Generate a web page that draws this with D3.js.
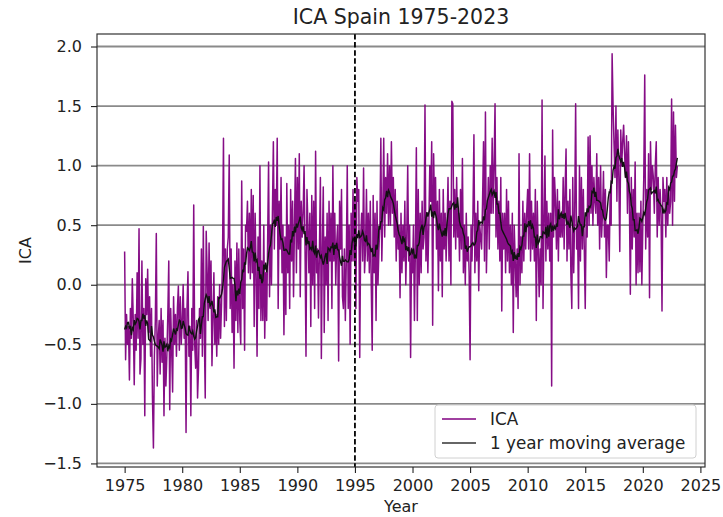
<!DOCTYPE html>
<html><head><meta charset="utf-8">
<script src="https://cdn.jsdelivr.net/npm/d3@7"></script>
<style>
body{margin:0;background:#fff}
text{font-family:"DejaVu Sans",sans-serif;fill:#222}
</style>
</head><body>
<svg id="chart" width="723" height="517"></svg>
<script>
// ---- data (monthly ICA values, Jan 1975 .. Jan 2023) ----
const startYear = 1975;
const ica1970s = [
 0.28,-0.63,-0.25,-0.5,-0.35,-0.8,-0.2,-0.45,0.05,-0.3,-0.84,-0.25,
 -0.55,0.1,-0.45,0.47,-0.75,-0.62,0.2,-0.5,-0.2,-1.1,0.05,-0.25,
 0.13,-0.4,-0.1,-0.6,-0.2,-0.95,-1.37,-0.6,-0.3,0.43,-0.85,-0.45,
 -0.3,-0.75,-0.2,-0.65,-0.3,-1.1,-0.45,-0.85,-0.6,-0.25,0.2,-1.05,
 -0.2,-0.55,-0.9,-0.1,-0.5,-0.25,-0.6,-0.2,-0.01,-0.55,-0.1,-0.5
];
const ica1980s = [
 -0.3,0.0,-0.45,-0.2,-1.24,-0.2,0.11,-0.6,-0.35,-1.1,-0.2,-0.55,
 0.67,-0.5,-0.7,-0.3,-0.95,-0.7,-0.2,-0.45,0.3,-0.6,0.49,-0.4,
 -0.95,0.45,0.1,-0.3,0.35,-0.2,0.2,-0.68,-0.3,0.1,-0.5,-0.25,
 -0.6,-0.1,-0.5,0.0,-0.45,-0.15,0.2,1.23,-0.35,0.3,-0.3,0.3,
 0.4,1.09,-0.2,0.3,-0.4,0.0,-0.7,0.2,-0.3,0.35,-0.4,0.3,
 -0.3,-0.5,0.87,-0.2,0.3,-0.55,0.5,0.45,0.7,0.1,0.6,0.05,
 0.8,0.1,0.75,-0.35,0.6,0.1,-0.6,0.4,-0.2,1.0,-0.3,0.2,
 -0.3,0.5,-0.45,0.1,-0.3,0.35,1.03,-0.1,0.5,0.0,0.6,1.2,
 0.3,0.8,0.5,1.23,-0.2,0.7,0.3,0.9,0.1,0.5,-0.42,0.4,
 -0.25,0.85,0.1,0.5,-0.2,0.8,0.2,0.7,-0.1,0.5,1.06,0.1
];
const ica1990s = [
 0.9,0.3,1.1,-0.1,0.7,0.4,0.6,1.0,0.3,-0.6,0.8,0.5,
 0.1,0.6,-0.35,0.75,0.0,0.7,-0.2,1.12,0.1,0.3,-0.28,0.3,
 0.9,-0.62,0.3,0.82,-0.4,0.4,0.0,0.6,-0.3,0.7,0.2,0.6,
 -0.2,1.0,0.2,0.6,0.0,0.35,0.5,-0.64,0.7,0.3,0.8,-0.1,
 -0.2,0.3,-0.3,0.2,1.0,-0.2,0.5,-0.5,0.6,0.2,0.8,0.2,
 0.7,-0.2,0.9,0.7,0.8,-0.61,0.4,0.6,0.2,0.98,0.1,0.3,
 0.8,0.2,0.6,0.1,0.7,0.0,-0.55,0.75,0.1,0.6,-0.3,0.7,
 0.0,0.3,0.5,1.23,0.2,0.6,1.23,0.4,0.9,0.6,1.1,0.5,
 1.0,0.5,1.2,0.6,0.9,0.4,0.8,0.2,0.7,0.3,0.5,-0.11,
 0.6,0.1,0.5,0.2,0.7,0.0,0.4,1.0,0.2,0.5,-0.61,0.3
];
const ica2000s = [
 0.1,0.5,-0.3,0.3,1.15,-0.3,0.8,0.0,0.6,0.1,0.7,0.3,
 0.4,1.51,0.2,0.6,0.1,0.5,1.0,0.7,1.2,-0.34,1.1,0.6,
 0.9,0.3,0.7,-0.05,0.8,0.2,0.6,-0.1,0.8,0.3,0.6,0.2,
 0.5,0.9,0.2,0.7,0.0,1.54,1.52,0.4,0.8,0.3,0.9,0.4,
 0.6,0.2,0.8,0.3,1.06,0.1,0.5,0.0,0.6,0.2,0.4,0.1,
 -0.63,0.5,0.2,0.6,1.26,0.1,0.6,0.2,0.7,-0.05,0.5,0.4,
 0.3,0.7,1.2,0.2,1.45,0.1,0.5,0.9,0.3,1.0,0.6,1.23,
 0.6,1.0,1.52,0.4,0.9,0.3,0.7,0.2,0.9,-0.22,0.6,0.3,
 0.6,0.1,0.8,0.2,0.7,0.1,0.5,0.0,0.6,-0.4,0.5,0.2,
 -0.1,0.3,-0.2,1.1,0.0,0.4,0.1,0.7,0.2,0.6,0.3,0.6
];
const ica2010s = [
 0.8,0.3,1.1,0.2,0.7,0.3,0.6,0.2,0.8,-0.3,0.7,0.3,
 -0.1,0.3,0.0,1.55,-0.2,0.5,1.08,0.2,0.7,0.3,0.6,0.2,
 0.6,-0.85,1.3,0.4,0.9,0.7,0.3,0.8,0.2,0.7,0.4,0.6,
 0.4,0.9,0.3,0.8,1.14,0.2,0.7,0.3,0.8,0.1,-0.2,0.9,
 0.1,0.6,1.52,0.3,0.5,-0.2,1.0,0.2,0.9,0.3,0.8,0.3,
 -0.2,0.6,0.4,1.24,0.5,1.25,0.6,1.0,0.5,0.9,0.7,0.6,
 1.1,0.5,0.9,0.3,1.0,0.4,0.6,0.95,0.4,0.8,0.06,0.5,
 0.5,0.2,0.8,0.5,1.94,1.5,1.18,0.9,1.5,0.7,1.3,0.9,
 0.28,1.3,1.0,1.2,1.34,1.1,0.9,1.25,0.6,1.2,0.7,-0.08,
 0.9,0.3,0.8,0.4,1.03,0.0,0.6,0.1,0.6,0.11,0.7,0.0
];
const ica2020s = [
 0.5,0.9,1.76,0.3,0.8,0.4,1.1,-0.11,1.2,0.8,1.0,0.9,
 0.6,1.0,1.2,0.4,0.9,0.5,0.8,0.6,-0.22,0.9,0.7,0.8,
 0.4,0.9,0.5,0.8,0.6,0.7,1.56,0.5,1.45,0.7,1.34,0.9,
 1.0
];
const yTicks = [-1.5,-1.0,-0.5,0.0,0.5,1.0,1.5,2.0];
const xTicks = [1975,1980,1985,1990,1995,2000,2005,2010,2015,2020,2025];
const markerYear = 1995;
const titleText = "ICA Spain 1975-2023";
const xLabel = "Year", yLabel = "ICA";
const seriesNames = ["ICA","1 year moving average"];

// ---- build series ----
const values = [].concat(ica1970s, ica1980s, ica1990s, ica2000s, ica2010s, ica2020s);
const ica = values.map((v,i)=>({t: startYear + i/12, v}));
const ma = ica.map((d,i)=>{
  const lo = Math.max(0, i-6), hi = Math.min(values.length-1, i+5);
  return {t:d.t, v:d3.mean(values.slice(lo,hi+1))};
});

// ---- layout ----
const svg = d3.select("#chart");
const L=97, R=705, T=34, B=467;
const x = d3.scaleLinear().domain([1972.6, 2025.4]).range([L,R]);
const y = d3.scaleLinear().domain([-1.53, 2.105]).range([B,T]);

// grid
svg.append("g").selectAll("line").data(yTicks).join("line")
  .attr("x1",L).attr("x2",R).attr("y1",d=>y(d)).attr("y2",d=>y(d))
  .attr("stroke","#8a8a8a").attr("stroke-width",1.8);

// series
const line = d3.line().x(d=>x(d.t)).y(d=>y(d.v));
svg.append("path").datum(ica).attr("d",line)
  .attr("fill","none").attr("stroke","#800080").attr("stroke-width",1.5)
  .attr("stroke-linejoin","round").attr("opacity",0.95);
svg.append("path").datum(ma).attr("d",line)
  .attr("fill","none").attr("stroke","#111").attr("stroke-width",1.4);

// vertical marker
svg.append("line").attr("x1",x(markerYear)).attr("x2",x(markerYear))
  .attr("y1",T).attr("y2",B).attr("stroke","#000").attr("stroke-width",1.8)
  .attr("stroke-dasharray","5.5,2.6");

// frame
svg.append("rect").attr("x",L).attr("y",T).attr("width",R-L).attr("height",B-T)
  .attr("fill","none").attr("stroke","#333").attr("stroke-width",1.2);

// axes
const fs = 16;
const xa = svg.append("g").attr("transform",`translate(0,${B})`)
  .call(d3.axisBottom(x).tickValues(xTicks).tickFormat(d3.format("d")).tickSize(6).tickPadding(7));
const ya = svg.append("g").attr("transform",`translate(${L},0)`)
  .call(d3.axisLeft(y).tickValues(yTicks).tickFormat(d3.format(".1f")).tickSize(6).tickPadding(9));
[xa,ya].forEach(a=>{
  a.select(".domain").remove();
  a.selectAll(".tick line").attr("stroke","#222").attr("stroke-width",1.1);
  a.selectAll(".tick text").attr("font-size",fs).attr("font-family","DejaVu Sans").attr("fill","#222");
});

// title & labels
svg.append("text").attr("x",(L+R)/2).attr("y",24).attr("text-anchor","middle")
  .attr("font-size",20.5).text(titleText);
svg.append("text").attr("x",(L+R)/2).attr("y",512).attr("text-anchor","middle")
  .attr("font-size",fs).text(xLabel);
svg.append("text").attr("transform",`translate(31,${(T+B)/2}) rotate(-90)`)
  .attr("text-anchor","middle").attr("font-size",fs).text(yLabel);

// legend
const lg = svg.append("g");
lg.append("rect").attr("x",435).attr("y",405).attr("width",261).attr("height",53)
  .attr("rx",3).attr("fill","#fff").attr("fill-opacity",0.85).attr("stroke","#d0d0d0");
const colors = ["#800080","#333"];
seriesNames.forEach((n,i)=>{
  const yy = 419 + i*24;
  lg.append("line").attr("x1",442).attr("x2",476).attr("y1",yy).attr("y2",yy)
    .attr("stroke",colors[i]).attr("stroke-width",1.6);
  lg.append("text").attr("x",490).attr("y",yy+6).attr("font-size",16.8).text(n);
});
</script>
</body></html>
